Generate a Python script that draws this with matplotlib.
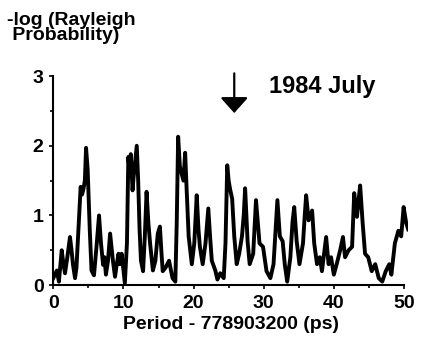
import numpy as np
import matplotlib
matplotlib.use("Agg")
import matplotlib.pyplot as plt
from matplotlib.ticker import MultipleLocator

plt.rcParams['font.family'] = ['Liberation Sans', 'DejaVu Sans']
plt.rcParams['font.weight'] = 'bold'

# Period offset (ps) and -log(Rayleigh probability)
period = [0.0, 0.5, 0.8, 1.2, 1.45, 1.67, 2.0, 2.38, 2.6, 2.8, 3.1, 3.3, 3.5, 3.9,
          4.1, 4.3, 4.5, 4.67, 4.9, 5.2, 5.45, 5.8, 6.2, 6.52, 6.8, 7.1, 7.3, 7.5,
          7.8, 8.1, 8.5, 8.8, 9.05, 9.3, 9.5, 9.75, 10.2, 10.5, 10.7, 10.9, 11.05,
          11.3, 11.45, 11.6, 11.9, 12.1, 12.3, 12.5, 12.8, 13.05, 13.3, 13.55, 13.8,
          14.2, 14.55, 14.9, 15.2, 15.4, 15.6, 16.0, 16.5, 17.0, 17.4, 17.6, 17.8,
          18.05, 18.3, 18.55, 18.8, 19.0, 19.3, 19.75, 20.1, 20.45, 20.7, 20.9,
          21.3, 21.7, 22.1, 22.35, 22.6, 23.1, 23.4, 23.8, 24.3, 24.55, 24.8, 25.0,
          25.2, 25.5, 25.8, 26.15, 26.5, 26.9, 27.15, 27.35, 27.7, 28.0, 28.5,
          28.9, 29.15, 29.4, 29.9, 30.4, 30.95, 31.4, 31.7, 31.95, 32.3, 32.7,
          33.0, 33.35, 33.8, 34.1, 34.35, 34.7, 35.1, 35.6, 35.85, 36.05, 36.4,
          36.9, 37.2, 37.6, 38.0, 38.3, 38.6, 38.9, 39.25, 39.6, 40.0, 40.4,
          40.9, 41.3, 41.6, 42.1, 42.6, 42.9, 43.3, 43.5, 43.75, 44.1, 44.45,
          44.9, 45.4, 45.9, 46.4, 46.9, 47.4, 47.9, 48.2, 48.7, 49.2, 49.6,
          49.95, 50.3, 50.6]
neglog_prob = [0.1, 0.21, 0.05, 0.5, 0.3, 0.17, 0.4, 0.69, 0.5, 0.3, 0.1, 0.25, 0.63, 1.41,
               1.3, 1.38, 1.5, 1.97, 1.66, 0.79, 0.21, 0.14, 0.6, 1.0, 0.6, 0.29, 0.4, 0.15,
               0.35, 0.74, 0.35, 0.12, 0.3, 0.45, 0.3, 0.45, 0.03, 0.6, 1.84, 1.6, 1.88,
               1.36, 1.55, 1.7, 2.0, 1.5, 0.8, 0.35, 0.2, 0.7, 1.34, 0.9, 0.6,
               0.21, 0.35, 0.74, 0.84, 0.5, 0.2, 0.25, 0.35, 0.1, 0.05, 0.9, 2.13,
               1.7, 1.6, 1.5, 1.9, 1.4, 0.7, 0.3, 0.6, 1.29, 0.8, 0.55,
               0.3, 0.6, 1.1, 0.7, 0.35, 0.21, 0.08, 0.17, 0.1, 0.6, 1.72, 1.5,
               1.38, 1.24, 0.7, 0.3, 0.45, 0.7, 1.0, 1.39, 0.63, 0.3, 0.45,
               1.22, 0.9, 0.6, 0.55, 0.2, 0.1, 0.3, 0.8, 1.22, 0.7, 0.63,
               0.3, 0.05, 0.4, 0.9, 1.12, 0.63, 0.3, 0.6, 1.0, 1.29, 0.93,
               1.07, 0.6, 0.3, 0.4, 0.2, 0.45, 0.69, 0.3, 0.4, 0.15, 0.3,
               0.5, 0.69, 0.4, 0.5, 0.55, 1.32, 0.98, 1.2, 1.43, 0.9, 0.45,
               0.4, 0.2, 0.3, 0.1, 0.05, 0.2, 0.3, 0.15, 0.6, 0.78, 0.7,
               1.12, 0.9, 0.8]

fig = plt.figure(figsize=(4.23, 3.46), dpi=100)
ax = fig.add_axes([0.126, 0.176, 0.839, 0.604])

ax.plot(period, neglog_prob, color='black', linewidth=2.8, solid_joinstyle='round')

ax.set_xlim(0, 50.6)
ax.set_ylim(0, 3)
ax.spines['top'].set_visible(False)
ax.spines['right'].set_visible(False)
ax.spines['bottom'].set_bounds(0, 50)
ax.spines['left'].set_linewidth(1.5)
ax.spines['bottom'].set_linewidth(1.5)

ax.xaxis.set_major_locator(MultipleLocator(10))
ax.xaxis.set_minor_locator(MultipleLocator(5))
ax.yaxis.set_major_locator(MultipleLocator(1))
ax.yaxis.set_minor_locator(MultipleLocator(0.5))
ax.tick_params(which='both', direction='out', width=1.2, labelsize=14, pad=4)
ax.tick_params(which='major', length=3)
ax.tick_params(which='minor', length=2)
for lab in ax.get_xticklabels() + ax.get_yticklabels():
    lab.set_fontweight('bold')

ax.set_xlabel('Period - 778903200 (ps)', fontsize=14, fontweight='bold', labelpad=3)
fig.text(0.017, 0.965, '-log (Rayleigh\n Probability)', fontsize=14, fontweight='bold',
         ha='left', va='top', linespacing=0.85)

ax.annotate('', xy=(25.8, 2.47), xytext=(25.8, 3.04),
            arrowprops=dict(arrowstyle='-|>,head_width=0.85,head_length=0.95',
                            color='black', lw=1.6, shrinkA=0, shrinkB=0),
            annotation_clip=False)
ax.text(30.8, 2.85, '1984 July', fontsize=17, fontweight='bold', ha='left', va='center')

fig.savefig('out.png', dpi=100)
